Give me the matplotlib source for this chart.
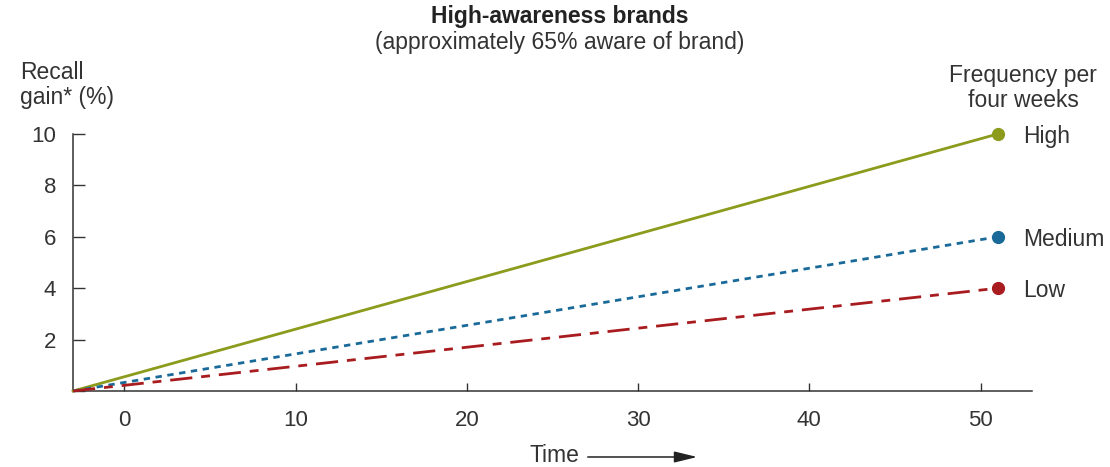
import matplotlib.pyplot as plt

plt.rcParams['font.family'] = ['Liberation Sans', 'DejaVu Sans']

# data
time = [-3, 51]
high = [0, 10]
medium = [0, 6]
low = [0, 4]
series_names = ['High', 'Medium', 'Low']
xticks = [0, 10, 20, 30, 40, 50]
yticks = [2, 4, 6, 8, 10]

text_col = '#333333'
colors = {'High': '#8c9b1c', 'Medium': '#1a6a99', 'Low': '#a81c1f'}
styles = {'High': '-', 'Medium': (0, (2.3, 2.0)), 'Low': (0, (8, 3.2, 3.2, 3.2))}

fig = plt.figure(figsize=(11.1, 4.67), dpi=100)
ax = fig.add_axes([0.0658, 0.1627, 0.8639, 0.5504])

for name, vals in zip(series_names, [high, medium, low]):
    ax.plot(time, vals, color=colors[name], linestyle=styles[name], lw=2.0,
            clip_on=False, zorder=3)
    ax.plot(time[-1], vals[-1], 'o', color=colors[name], ms=8.5, clip_on=False, zorder=4)
    ax.text(time[-1] + 1.5, vals[-1], name, fontsize=16.5, color=text_col,
            va='center_baseline', ha='left')

ax.set_xlim(-3, 53)
ax.set_ylim(0, 10)
ax.set_xticks(xticks)
ax.set_yticks(yticks + [0])
ax.set_yticklabels([str(v) for v in yticks] + [''])
ax.tick_params(axis='x', direction='in', length=6, width=1, color=text_col,
               labelsize=16, labelcolor=text_col, pad=14)
ax.tick_params(axis='y', direction='in', length=8.5, width=1, color=text_col,
               labelsize=16, labelcolor=text_col, pad=12)
for s in ['top', 'right']:
    ax.spines[s].set_visible(False)
for s in ['left', 'bottom']:
    ax.spines[s].set_color(text_col)
    ax.spines[s].set_linewidth(1.1)

fig.text(560 / 1110, 1 - 17 / 467, 'High-awareness brands', fontsize=16.5,
         fontweight='bold', color='#222222', ha='center', va='center')
fig.text(560 / 1110, 1 - 43 / 467, '(approximately 65% aware of brand)', fontsize=16.5,
         color=text_col, ha='center', va='center')
fig.text(20 / 1110, 1 - 85 / 467, 'Recall\ngain* (%)', fontsize=16.5, color=text_col,
         ha='left', va='center', linespacing=1.1)
fig.text(1023 / 1110, 1 - 88 / 467, 'Frequency per\nfour weeks', fontsize=16.5,
         color=text_col, ha='center', va='center', linespacing=1.1)

fig.text(530 / 1110, 1 - 455 / 467, 'Time', fontsize=16.5, color=text_col,
         ha='left', va='center')
fig.add_artist(plt.matplotlib.patches.FancyArrowPatch(
    (585 / 1110, 1 - 457 / 467), (700 / 1110, 1 - 457 / 467),
    transform=fig.transFigure, arrowstyle='-|>,head_length=0.7,head_width=0.17',
    mutation_scale=20, color='#222222', lw=1.1))

fig.savefig('out.png', dpi=100)
